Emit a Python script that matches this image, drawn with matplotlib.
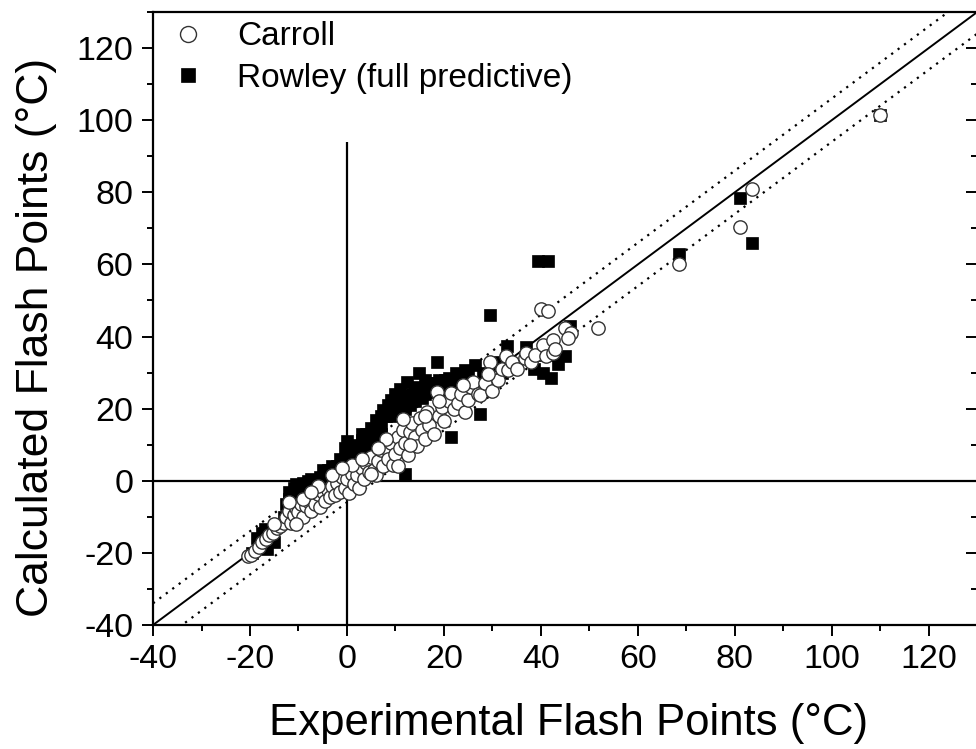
import matplotlib
matplotlib.use('Agg')
import matplotlib.pyplot as plt
from matplotlib.lines import TICKLEFT

plt.rcParams['font.family'] = ['Liberation Sans', 'DejaVu Sans']
plt.rcParams['axes.unicode_minus'] = False

# Carroll (open circles): experimental vs calculated flash points
carroll_x = [-20.5, -19.8, -19.0, -18.2, -17.5, -16.8, -16.0, -15.2, -14.5, -13.8,
             -13.0, -12.5, -12.0, -11.5, -11.0, -10.5, -10.0, -9.5, -9.0, -8.5,
             -8.0, -7.5, -7.0, -6.5, -6.0, -5.5, -5.0, -4.5, -4.0, -3.5,
             -3.0, -2.5, -2.0, -1.5, -1.0, -0.5, 0.0, 0.5, 1.0, 1.5,
             2.0, 2.5, 3.0, 3.5, 4.0, 4.5, 5.0, 5.5, 6.0, 6.5,
             7.0, 7.5, 8.0, 8.5, 9.0, 9.5, 10.0, 10.5, 11.0, 11.5,
             12.0, 12.5, 13.0, 13.5, 14.0, 14.5, 15.0, 15.5, 16.0, 16.5,
             17.0, 18.0, 18.5, 18.9, 19.5, 20.0, 21.0, 21.5, 22.0, 23.0,
             23.5, 24.4, 25.0, 25.5, 26.0, 27.0, 27.5, 28.5, 29.5, 30.0,
             31.2, 32.0, 32.8, 33.2, 34.0, 35.0, 36.7, 37.0, 38.0, 38.8,
             40.4, 41.0, 42.5, 42.5, 43.0, 44.9, 46.2, 45.5,
             -12.0, -9.0, -6.0, -3.0, 1.0, 3.0, 5.0, 8.0, 10.5, 13.0,
             16.0, 19.0, 24.0, 29.0, -15.0, -10.5, -7.5, -1.0, 6.5, 11.5,
             40.0, 41.5, 51.7, 68.5, 81.0, 83.5, 110.0]
carroll_y = [-21.0, -20.5, -19.5, -18.5, -17.0, -16.2, -15.0, -14.5, -13.2, -12.5,
             -11.8, -10.0, -8.5, -11.8, -9.5, -7.5, -8.8, -6.5, -10.0, -7.0,
             -5.5, -8.5, -4.5, -6.5, -3.8, -7.2, -3.0, -5.5, -2.5, -4.5,
             -1.5, -4.0, -0.5, -3.2, 1.0, -2.0, 0.5, -3.5, 2.0, -1.0,
             1.5, -2.0, 3.5, 0.5, 5.0, 2.5, 6.5, 3.0, 1.5, 5.5,
             8.5, 4.0, 9.0, 6.0, 10.5, 4.5, 7.5, 12.0, 9.0, 14.0,
             10.5, 7.0, 13.5, 16.0, 12.0, 9.5, 17.5, 14.0, 11.5, 19.0,
             15.5, 13.0, 24.5, 18.0, 20.5, 16.5, 22.0, 24.3, 20.0, 21.5,
             24.0, 19.0, 22.5, 26.0, 27.5, 24.0, 23.7, 27.0, 32.8, 25.0,
             27.9, 31.0, 34.5, 30.6, 33.0, 31.0, 34.0, 35.5, 33.0, 34.8,
             37.6, 34.5, 39.0, 35.3, 36.5, 42.3, 40.9, 39.5,
             -6.0, -5.0, -1.5, 1.5, 4.5, 6.0, 2.0, 11.5, 4.0, 10.0,
             18.0, 22.0, 26.5, 29.5, -12.0, -12.0, -3.0, 3.5, 9.0, 17.0,
             47.5, 47.2, 42.3, 60.0, 70.5, 81.0, 101.5]

# Rowley (full predictive, filled squares)
rowley_x = [-19.5, -18.5, -17.5, -16.5, -15.5, -15.0, -13.0, -12.5, -12.0, -11.5,
            -11.0, -10.5, -10.0, -9.5, -9.0, -8.5, -8.0, -7.5, -7.0, -6.5,
            -6.0, -5.5, -5.0, -4.5, -4.0, -3.0, -2.0, -1.5, -1.0, -0.5,
            0.0, 0.0, 0.5, 1.0, 1.5, 2.0, 2.0, 2.5, 3.0, 3.0,
            3.5, 4.0, 4.0, 4.5, 5.0, 5.0, 5.5, 6.0, 6.0, 6.5,
            7.0, 7.0, 7.5, 8.5, 9.0, 9.5, 10.0, 10.5, 11.0, 11.0,
            11.5, 12.0, 12.3, 12.0, 13.0, 13.0, 13.5, 14.0, 14.2, 14.8,
            15.5, 16.0, 16.2, 17.0, 17.0, 18.3, 18.5, 19.0, 19.5, 20.3,
            21.0, 21.5, 22.4, 23.0, 24.4, 25.0, 26.5, 27.5, 28.0, 29.5,
            30.0, 31.0, 32.0, 33.0, 37.0, 38.5, 39.5, 40.5, 41.5, 42.0,
            43.5, 45.0, 46.0,
            -12.0, -11.0, -10.0, -9.0, -8.0, -7.0, -7.5, -6.0, -4.0, -3.0,
            -2.5, -1.0, 1.0, 2.0, 3.0, 4.0, 5.0, 6.0, 7.0, 8.0,
            9.0, 10.0, 12.0, 14.0, 16.0, 18.0, 20.0, 22.0, 24.0, -17.0,
            39.5, 41.5, 68.5, 81.0, 83.5, 110.0]
rowley_y = [-20.0, -16.0, -14.5, -19.0, -14.0, -17.0, -10.0, -6.5, -3.0, -5.0,
            -4.0, -1.0, -3.0, -2.0, -0.5, -2.5, 0.0, -1.5, -0.5, -3.0,
            -1.0, 1.0, 3.0, 2.0, 1.5, 2.0, 4.0, 6.0, 5.0, 9.0,
            11.0, 5.5, 7.0, 8.5, 6.0, 10.0, 8.0, 7.5, 11.2, 13.0,
            9.0, 13.0, 8.0, 10.5, 14.6, 10.0, 12.0, 16.8, 12.0, 9.3,
            18.0, 13.0, 19.6, 21.0, 22.3, 18.0, 24.0, 20.4, 25.5, 19.0,
            21.0, 20.0, 27.3, 2.0, 22.0, 21.0, 24.0, 22.0, 25.0, 30.0,
            23.0, 24.0, 26.0, 24.5, 27.0, 27.0, 33.0, 28.0, 26.0, 27.9,
            28.5, 12.0, 29.8, 27.0, 30.6, 29.0, 32.0, 18.5, 30.0, 46.0,
            32.0, 33.0, 30.0, 37.5, 37.0, 31.0, 34.8, 30.0, 35.0, 28.5,
            32.5, 34.5, 43.0,
            -5.0, -2.0, -5.0, -3.0, -1.5, -2.0, 0.5, -3.5, 3.0, 4.0,
            1.0, 3.0, 4.0, 5.0, 6.0, 11.0, 8.5, 10.0, 15.5, 18.0,
            19.0, 21.0, 23.5, 26.0, 28.0, 25.0, 24.5, 26.5, 27.5, -13.5,
            61.0, 61.0, 63.0, 78.5, 66.0, 101.5]

xticks = [-40, -20, 0, 20, 40, 60, 80, 100, 120]
yticks = [-40, -20, 0, 20, 40, 60, 80, 100, 120]
minor_ticks = [-30, -10, 10, 30, 50, 70, 90, 110, 130]
band = 6

fig = plt.figure(figsize=(9.76, 7.49), dpi=100)
ax = fig.add_axes([0.1568, 0.1656, 0.8445, 0.8184])

# reference lines
ax.plot([-40, 130], [-40, 130], color='black', lw=1.4, zorder=1)
ax.plot([-40, 130], [-40 + band, 130 + band], color='black', lw=1.6,
        linestyle=(0, (1, 2.6)), zorder=1)
ax.plot([-40, 130], [-40 - band, 130 - band], color='black', lw=1.6,
        linestyle=(0, (1, 2.6)), zorder=1)
ax.axhline(0, color='black', lw=1.6, zorder=1)
ax.vlines(0, -40, 94, color='black', lw=1.6, zorder=1)

ax.plot(rowley_x, rowley_y, 's', color='black', ms=8.8, mec='black', mew=0.5,
        label='Rowley (full predictive)', zorder=2)
ax.plot(carroll_x, carroll_y, 'o', mfc='white', mec='#333333', ms=9.6, mew=1.0,
        label='Carroll', zorder=3)

ax.set_xlim(-40, 130)
ax.set_ylim(-40, 130)
ax.set_xticks(xticks)
ax.set_yticks(yticks)
ax.set_xticks(minor_ticks, minor=True)
ax.set_yticks(minor_ticks, minor=True)
ax.tick_params(axis='both', which='major', labelsize=24.5, length=8, width=1.4,
               direction='out', pad=6)
ax.tick_params(axis='both', which='minor', length=4.5, width=1.4, direction='out')
ax.tick_params(axis='y', which='both', right=True)
for side in ['left', 'bottom', 'top', 'right']:
    ax.spines[side].set_linewidth(1.6)

# inward ticks on the right side
for t in ax.yaxis.get_major_ticks() + ax.yaxis.get_minor_ticks():
    t.tick2line.set_marker(TICKLEFT)

ax.set_xlabel('Experimental Flash Points (°C)', fontsize=31.5)
ax.set_ylabel('Calculated Flash Points (°C)', fontsize=32)
ax.xaxis.set_label_coords(0.504, -0.128)
ax.yaxis.set_label_coords(-0.117, 0.469)

handles, labels = ax.get_legend_handles_labels()
ax.legend(handles[::-1], labels[::-1], loc='upper left',
          bbox_to_anchor=(0.0222, 0.985), frameon=False, fontsize=24,
          handletextpad=0.97, borderaxespad=0, borderpad=0,
          labelspacing=0.31, handlelength=1.0, markerscale=1.2)

plt.savefig('out.png', dpi=100)
